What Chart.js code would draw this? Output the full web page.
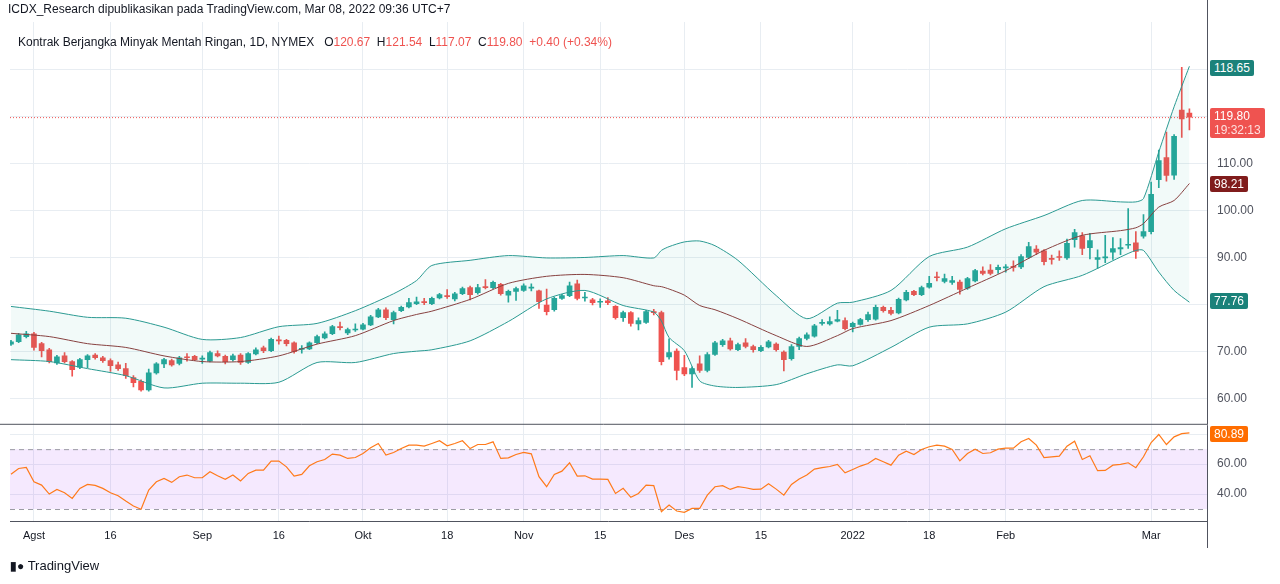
<!DOCTYPE html>
<html>
<head>
<meta charset="utf-8">
<script src="https://cdn.jsdelivr.net/npm/chart.js@4.4.1/dist/chart.umd.min.js"></script>
<style>
  body { margin: 0; background: #fff; font-family: "Liberation Sans", Arial, sans-serif; }
  #wrap { position: relative; width: 1280px; height: 584px; overflow: hidden; }
  #main { position: absolute; left: 0; top: 0; }
  #rsi { position: absolute; left: 0; top: 408px; }
  .txt { position: absolute; white-space: nowrap; font-size: 12px; color: #131722; }
  .tag { position: absolute; left: 1210px; color: #fff; font-size: 12px; padding: 0 4px; border-radius: 2px; line-height: 16px; }
  .red { color: #ef5350; }
</style>
</head>
<body>
<div id="wrap">
  <canvas id="main" width="1280" height="442"></canvas>
  <canvas id="rsi" width="1280" height="176"></canvas>
  <div class="txt" style="left:8px;top:2px;">ICDX_Research dipublikasikan pada TradingView.com, Mar 08, 2022 09:36 UTC+7</div>
  <div class="txt" style="left:18px;top:35px;">Kontrak Berjangka Minyak Mentah Ringan, 1D, NYMEX &nbsp; O<span class="red">120.67</span> &nbsp;H<span class="red">121.54</span> &nbsp;L<span class="red">117.07</span> &nbsp;C<span class="red">119.80</span> &nbsp;<span class="red">+0.40 (+0.34%)</span></div>
  <div class="tag" style="top:60px;background:#1b827a;">118.65</div>
  <div class="tag" style="top:108px;background:#ef5350;line-height:14px;padding:1px 4px;">119.80<br><span style="color:#fde0df">19:32:13</span></div>
  <div class="tag" style="top:176px;background:#801c1c;">98.21</div>
  <div class="tag" style="top:293px;background:#1b827a;">77.76</div>
  <div class="tag" style="top:426px;background:#ff6d00;">80.89</div>
  <div class="txt" style="left:10px;top:558px;font-size:13px;"><b style="font-size:12px;">&#9646;&#9679;</b> TradingView</div>
</div>
<script>
// daily bars, index 0 = late Jul 2021, index 154 = Mar 07 2022
const opens = [71.6,72.1,73.2,73.8,71.7,70.4,67.6,69.1,67.9,66.7,68.3,69.3,68.7,68.1,67.2,66.4,64.5,63.7,61.9,65.5,
  67.4,68.1,67.5,68.8,69.0,68.4,68.0,69.6,69.0,68.3,69.3,67.7,69.5,70.8,70.2,72.4,72.4,71.9,70.5,70.6,
  71.9,72.9,73.8,75.2,74.0,74.6,74.8,75.7,77.4,78.9,76.8,78.7,79.5,80.2,80.6,80.2,81.4,81.8,81.2,82.3,
  83.6,82.5,83.7,83.6,84.3,82.0,82.8,83.0,83.5,82.9,79.9,78.9,81.3,81.9,84.4,81.4,81.0,80.5,80.8,79.6,
  77.2,78.3,75.9,76.2,78.4,78.3,68.9,70.1,66.6,65.3,67.4,66.0,69.4,71.5,72.3,70.4,71.9,71.1,70.2,71.0,
  71.6,69.9,68.5,71.1,72.8,73.3,76.0,75.9,76.5,76.6,75.3,75.8,76.8,76.9,79.4,78.8,78.2,81.0,82.8,82.1,
  83.7,85.8,84.9,84.7,84.8,83.5,85.0,87.1,87.3,87.4,87.8,88.0,88.0,90.0,91.8,91.4,89.7,90.1,89.9,93.8,
  94.6,92.1,89.6,89.9,91.1,91.8,92.6,93.1,94.5,95.5,106.5,111.2,107.5,121.3,120.67];
const closes = [72.1,73.6,73.8,70.9,70.2,67.9,68.9,67.9,66.2,68.3,69.1,68.7,68.1,67.0,66.4,64.9,63.4,61.9,65.5,67.4,
  68.3,67.2,68.7,68.7,68.3,68.5,69.8,69.1,67.9,69.1,67.7,69.6,70.4,70.2,72.6,72.3,71.7,70.0,70.6,71.9,
  73.2,73.8,75.3,75.1,74.7,74.7,75.7,77.4,78.9,77.2,78.3,79.4,80.4,80.6,80.4,81.3,82.1,81.7,82.3,83.4,
  82.1,83.6,83.6,84.7,82.3,82.8,83.4,84.0,83.6,80.6,78.5,81.3,81.9,84.0,81.3,81.5,80.4,80.6,80.4,77.2,
  78.3,76.0,76.6,78.5,78.3,67.9,69.8,66.0,65.3,66.4,66.0,69.4,71.9,72.3,70.6,71.5,71.1,70.4,70.9,72.1,
  70.4,68.3,71.1,72.8,73.6,75.5,76.2,76.4,76.8,74.9,76.0,76.8,77.9,79.4,78.7,78.1,81.1,82.6,82.1,83.6,
  84.5,85.7,85.5,85.1,83.2,85.5,87.2,86.6,86.6,87.9,87.9,87.9,90.2,92.3,91.1,89.1,89.6,90.0,93.0,95.3,
  91.9,93.6,90.0,90.0,91.9,92.1,92.8,91.3,95.5,103.4,110.6,107.4,115.7,119.4,119.8];
const highs = [72.4,73.9,74.3,74.1,72.0,70.7,69.2,69.8,68.1,68.6,69.4,69.6,69.0,68.5,67.8,67.5,64.9,64.0,66.3,67.7,
  68.6,68.4,69.0,69.6,69.2,69.1,70.1,70.2,69.3,69.5,69.6,69.8,70.8,71.2,72.9,73.3,72.6,72.1,71.3,72.1,
  73.5,74.2,75.6,76.3,75.0,75.9,76.0,77.7,79.2,79.3,78.6,79.7,81.3,81.6,81.3,81.6,82.4,83.2,82.6,83.7,
  83.9,84.3,85.3,85.0,84.5,83.1,83.7,84.4,84.4,83.1,83.3,81.6,82.2,84.8,85.2,82.6,81.3,81.2,81.5,79.8,
  78.6,78.5,77.2,78.8,79.0,78.6,72.7,70.6,69.2,66.8,69.1,69.8,72.2,72.6,72.9,71.8,72.8,71.4,71.3,72.4,
  71.9,70.2,71.5,73.1,74.0,75.8,76.8,77.4,78.8,77.2,76.3,77.1,78.4,79.9,79.7,79.4,81.4,83.0,83.0,83.9,
  86.0,86.9,86.5,86.0,85.2,85.8,87.5,88.0,88.5,88.4,88.5,89.3,90.6,93.2,92.5,91.7,90.5,91.4,93.9,96.0,
  95.3,95.1,91.6,94.7,94.2,94.0,100.4,95.5,99.1,106.0,112.8,116.6,116.1,130.4,121.54];
const lows = [71.3,71.9,72.9,70.3,68.9,67.6,67.3,67.6,64.8,66.4,66.6,68.4,67.7,65.8,66.0,64.3,62.5,61.6,61.6,65.2,
  66.6,66.9,67.2,68.0,68.1,67.5,67.8,68.9,67.4,68.0,67.3,67.5,69.3,69.8,70.0,71.6,71.2,69.7,69.7,70.4,
  71.7,72.7,73.6,74.6,73.6,74.3,74.6,75.5,77.2,76.8,75.9,78.5,79.3,80.0,80.0,80.0,81.2,81.3,80.8,82.1,
  81.0,82.2,83.3,83.4,82.0,80.5,80.9,82.8,82.9,79.2,77.8,78.6,81.1,81.7,81.0,80.7,79.9,79.4,80.0,76.9,
  76.4,75.4,74.6,76.0,77.8,67.2,68.4,64.0,64.9,62.4,65.6,65.7,69.2,71.1,70.3,70.2,70.8,69.9,70.0,70.8,
  70.1,65.9,68.2,70.4,72.5,73.1,75.6,75.6,76.3,74.6,74.2,75.6,76.4,76.7,78.4,77.8,78.0,80.8,81.9,81.9,
  83.5,85.0,84.6,84.3,82.2,83.2,84.8,86.3,86.3,86.6,86.9,87.1,87.6,89.8,90.6,88.4,88.6,89.4,89.6,92.2,
  90.6,89.7,87.7,88.9,89.6,90.6,91.9,89.8,94.1,95.0,104.8,106.2,106.6,115.5,117.07];

// Bollinger Bands (20, 2) at these bars
const bbIdx   = [0,5,10,15,20,25,30,35,40,45,50,53,55,60,65,70,75,80,84,85,86,88,90,92,95,100,104,108,110,115,120,125,130,135,140,145,147,148,150,152,154];
const bbUpper = [79.6,78.6,77.3,77.1,75.2,72.6,73.0,75.3,76.0,78.7,82.3,85.1,88.3,89.4,90.4,89.9,90.0,90.4,89.9,91.5,92.3,93.3,93.5,92.5,89.4,81.9,77.0,80.3,80.5,83.0,90.2,92.2,96.1,98.9,102.1,101.8,101.8,102.5,112.4,122.0,130.6];
const bbMid   = [73.9,73.2,71.7,70.9,69.1,67.9,67.9,69.1,71.6,73.4,76.6,77.9,78.6,81.1,84.5,86.0,86.4,85.7,84.0,83.8,83.3,82.0,79.8,78.9,77.0,73.4,71.1,73.4,74.9,76.6,79.8,83.5,87.2,91.5,94.7,95.7,96.3,97.2,100.7,102.1,105.7];
const bbLower = [68.3,67.9,66.4,64.9,62.3,63.3,63.3,63.5,67.7,67.7,69.6,70.1,70.4,72.3,76.4,81.2,83.0,79.8,78.4,76.5,73.0,70.2,63.8,62.7,62.4,63.0,65.3,67.2,67.0,70.9,75.2,75.9,78.4,83.8,86.2,90.1,91.5,91.5,86.9,83.0,80.5];

// RSI (14), one value per bar
const rsi = [53.3,57.1,57.8,48.2,46.0,40.0,43.1,40.9,37.1,43.8,46.4,45.8,43.8,40.9,38.9,35.3,32.0,29.8,42.7,48.2,
  50.4,47.8,51.6,52.7,50.9,50.9,54.9,52.2,49.8,52.7,48.7,53.8,56.0,56.0,62.0,62.0,58.2,52.0,53.1,58.9,
  61.6,63.1,66.7,66.0,63.8,64.4,67.1,70.9,73.8,66.0,67.8,70.4,72.7,72.7,72.0,73.8,75.6,72.2,73.8,75.6,
  70.4,73.1,73.1,74.9,63.8,64.2,66.4,67.8,66.9,51.6,44.9,53.1,55.3,60.9,52.0,52.2,50.0,50.0,49.8,40.4,
  43.8,37.8,40.4,46.0,45.6,28.2,32.7,28.7,27.8,30.4,30.4,39.3,44.9,45.6,43.1,44.9,44.2,43.1,43.3,46.9,
  43.3,39.3,46.4,50.0,52.7,56.7,57.6,58.4,59.8,54.2,56.4,58.7,60.4,63.8,61.6,59.3,66.0,68.7,66.4,69.8,
  71.6,72.7,72.0,69.8,62.2,67.1,70.0,67.1,67.6,70.0,70.7,70.7,74.9,77.1,72.7,64.4,64.9,65.3,72.0,75.3,
  63.1,65.6,55.6,55.8,59.3,59.8,60.9,57.6,64.9,74.4,79.8,73.1,78.2,80.4,80.9];

// x-axis ticks: bar index -> label
const tickIdx = [3,13,25,35,46,57,67,77,88,98,110,120,130,149];
const tickLbl = ['Agst','16','Sep','16','Okt','18','Nov','15','Des','15','2022','18','Feb','Mar'];
const priceTicks = [60,70,80,90,100,110,120,130];
const rsiTicks = [40,60,80];

const GREEN = '#26a69a', RED = '#ef5350', BAND = '#2b9a92', GRID = '#e8edf2';
const lastClose = closes[closes.length - 1];

const up = closes.map((c, i) => c >= opens[i]);
const bodies = closes.map((c, i) => ({ x: i, y: [opens[i], c] }));
const wicks = closes.map((c, i) => ({ x: i, y: [lows[i], highs[i]] }));
const candleColors = up.map(u => u ? GREEN : RED);
const band = arr => bbIdx.map((x, k) => ({ x: x, y: arr[k] }));

const xBase = {
  type: 'linear', min: -0.13, max: 156.3, offset: false,
  afterBuildTicks: s => { s.ticks = tickIdx.map(v => ({ value: v })); },
  grid: { color: GRID, drawTicks: false, offset: false },
  border: { display: false }
};

const priceLine = {
  id: 'priceLine',
  afterDatasetsDraw(chart) {
    const { ctx, chartArea: a, scales } = chart;
    const y = scales.y.getPixelForValue(lastClose);
    ctx.save();
    ctx.strokeStyle = RED; ctx.lineWidth = 1; ctx.setLineDash([1, 2]);
    ctx.beginPath(); ctx.moveTo(a.left, y + 0.5); ctx.lineTo(a.right, y + 0.5); ctx.stroke();
    ctx.setLineDash([]); ctx.strokeStyle = '#50535e';
    ctx.beginPath(); ctx.moveTo(a.right + 0.5, 0); ctx.lineTo(a.right + 0.5, a.bottom); ctx.stroke();
    ctx.beginPath(); ctx.moveTo(0, a.bottom - 0.5); ctx.lineTo(a.right, a.bottom - 0.5); ctx.stroke();
    ctx.restore();
  }
};

new Chart(document.getElementById('main'), {
  data: {
    datasets: [
      { type: 'line', data: band(bbUpper), borderColor: BAND, borderWidth: 1, pointRadius: 0, tension: 0.25,
        fill: { target: 1 }, backgroundColor: 'rgba(38,166,154,0.06)' },
      { type: 'line', data: band(bbLower), borderColor: BAND, borderWidth: 1, pointRadius: 0, tension: 0.25, fill: false },
      { type: 'line', data: band(bbMid), borderColor: '#8e3b3b', borderWidth: 1, pointRadius: 0, tension: 0.25, fill: false },
      { type: 'bar', data: wicks, backgroundColor: candleColors, barThickness: 1, grouped: false },
      { type: 'bar', data: bodies, backgroundColor: candleColors, barThickness: 5, grouped: false, minBarLength: 1 }
    ]
  },
  options: {
    responsive: false, animation: false,
    layout: { padding: { left: 10, top: 22 } },
    plugins: { legend: { display: false }, tooltip: { enabled: false } },
    scales: {
      x: Object.assign({}, xBase, { ticks: { display: false }, afterFit: s => { s.height = 0; } }),
      y: {
        position: 'right', min: 54.47, max: 140,
        afterBuildTicks: s => { s.ticks = priceTicks.map(v => ({ value: v })); },
        afterFit: s => { s.width = 73; },
        grid: { color: GRID, drawTicks: false },
        border: { display: false },
        ticks: { padding: 10, color: '#50535e', font: { family: 'Liberation Sans', size: 12 },
          callback: v => v <= 110 ? v.toFixed(2) : '' }
      }
    }
  },
  plugins: [priceLine]
});

const rsiBand = {
  id: 'rsiBand',
  beforeDatasetsDraw(chart) {
    const { ctx, chartArea: a, scales } = chart;
    const y70 = scales.y.getPixelForValue(70), y30 = scales.y.getPixelForValue(30);
    ctx.save();
    ctx.fillStyle = 'rgba(156,39,246,0.1)';
    ctx.fillRect(a.left, y70, a.right - a.left, y30 - y70);
    ctx.strokeStyle = '#9b9ba3'; ctx.lineWidth = 1; ctx.setLineDash([5, 4]);
    [y70, y30].forEach(y => { ctx.beginPath(); ctx.moveTo(a.left, y + 0.5); ctx.lineTo(a.right, y + 0.5); ctx.stroke(); });
    ctx.restore();
  },
  afterDraw(chart) {
    const { ctx, chartArea: a } = chart;
    ctx.save(); ctx.strokeStyle = '#50535e'; ctx.lineWidth = 1;
    ctx.beginPath(); ctx.moveTo(a.right + 0.5, a.top); ctx.lineTo(a.right + 0.5, a.bottom + 27); ctx.stroke();
    ctx.beginPath(); ctx.moveTo(10, a.bottom + 0.5); ctx.lineTo(a.right, a.bottom + 0.5); ctx.stroke();
    ctx.restore();
  }
};

new Chart(document.getElementById('rsi'), {
  type: 'line',
  data: {
    datasets: [
      { data: rsi.map((v, i) => ({ x: i, y: v })), borderColor: '#ff7a1a', borderWidth: 1.2, pointRadius: 0, tension: 0 }
    ]
  },
  options: {
    responsive: false, animation: false,
    layout: { padding: { left: 10, top: 1 } },
    plugins: { legend: { display: false }, tooltip: { enabled: false } },
    scales: {
      x: Object.assign({}, xBase, {
        afterFit: s => { s.height = 63; },
        ticks: { padding: 8, maxRotation: 0, autoSkip: false, color: '#131722',
          font: { family: 'Liberation Sans', size: 11 },
          callback: v => tickLbl[tickIdx.indexOf(v)] }
      }),
      y: {
        position: 'right', min: 22, max: 86,
        afterBuildTicks: s => { s.ticks = rsiTicks.map(v => ({ value: v })); },
        afterFit: s => { s.width = 73; },
        grid: { color: GRID, drawTicks: false },
        border: { display: false },
        ticks: { padding: 10, color: '#50535e', font: { family: 'Liberation Sans', size: 12 },
          callback: v => v < 80 ? v.toFixed(2) : '' }
      }
    }
  },
  plugins: [rsiBand]
});
</script>
</body>
</html>
